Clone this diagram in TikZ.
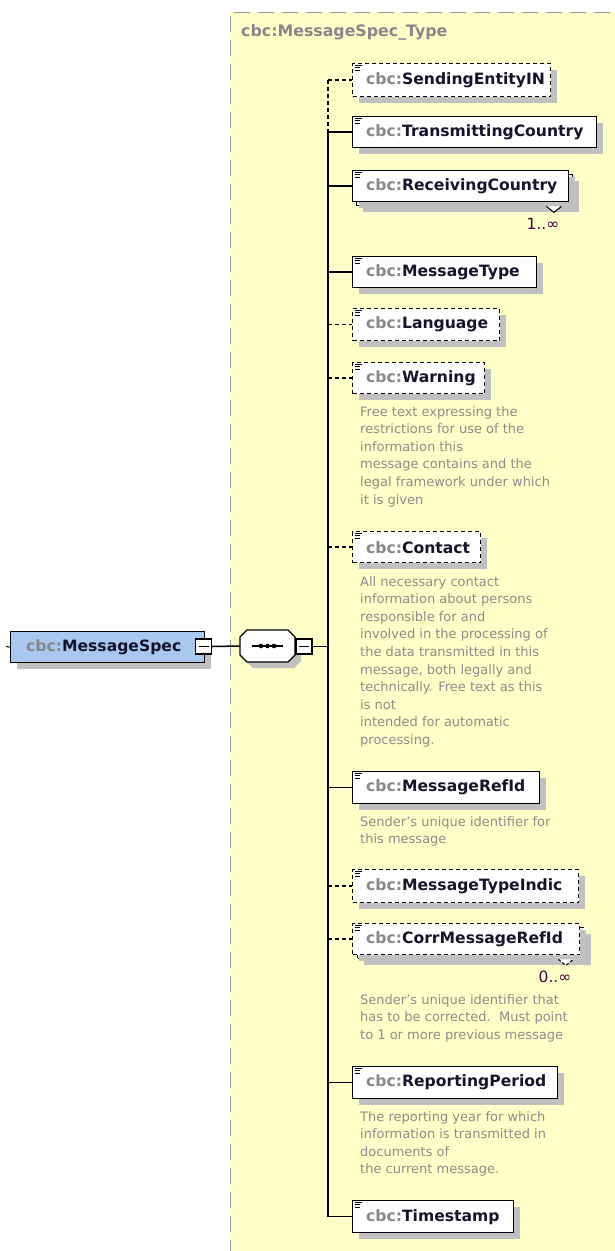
\documentclass[tikz,border=0pt]{standalone}
\usepackage{fontspec}
\setmainfont{DejaVu Sans}
\usetikzlibrary{shadows}
\definecolor{bgy}{RGB}{255,255,200}
\definecolor{shd}{RGB}{192,192,192}
\definecolor{pfx}{RGB}{135,135,140}
\definecolor{nm}{RGB}{20,20,45}
\definecolor{desc}{RGB}{140,140,140}
\definecolor{mult}{RGB}{75,0,60}
\definecolor{mainblue}{RGB}{168,200,240}
\definecolor{bord}{RGB}{150,150,150}
\tikzset{
  elembox/.style={draw=black, line width=1.4pt, fill=white, rectangle, inner sep=0pt, anchor=north west,
    drop shadow={shadow xshift=6pt, shadow yshift=-6pt, fill=shd, opacity=1}},
  optbox/.style={elembox, dash pattern=on 4pt off 3pt},
  namelbl/.style={anchor=west, inner sep=0pt, font=\bfseries\fontsize{15.6}{18}\selectfont, text=nm},
  desclbl/.style={anchor=north west, inner sep=0pt, align=left, text=desc, font=\fontsize{13}{17.6}\selectfont},
  conn/.style={draw=black, line width=1.5pt},
  optconn/.style={conn, dash pattern=on 4pt off 3pt},
  icon/.style={line width=0.8pt},
  multlbl/.style={inner sep=0pt, text=mult, font=\fontsize{15.5}{17}\selectfont},
  minusbox/.style={draw=black, line width=1.2pt, fill=white, rectangle, inner sep=0pt, minimum width=16pt, minimum height=15pt}
}
\newcommand\mkicon[1]{%
  \draw[icon] ([shift={(2.5,2.5)}]#1.north west) -- ++(7,0);
  \draw[icon] ([shift={(2.5,4.7)}]#1.north west) -- ++(5,0);
  \draw[icon] ([shift={(2.5,6.9)}]#1.north west) -- ++(5,0);}
\newcommand\mkname[2]{\node[namelbl] at ([xshift=14pt]#1.west) {\textcolor{pfx}{cbc:}#2};}
\begin{document}
\begin{tikzpicture}[x=1pt,y=-1pt]
\useasboundingbox (0,0) rectangle (615,1251);
\begin{scope}
\clip (0,0) rectangle (615,1251);
\fill[bgy] (230,12) rectangle (640,1280);
\draw[bord, line width=1pt, dash pattern=on 16pt off 8pt] (230,1280) -- (230,12) -- (640,12);
\end{scope}
\node[anchor=west, inner sep=0pt, text=pfx, font=\bfseries\fontsize{15.8}{18}\selectfont] (title) at (241,32) {cbc:MessageSpec\_Type};

% main element
\node[elembox, fill=mainblue, minimum width=194pt, minimum height=31pt] (ms) at (10,631) {};
\node[namelbl, text=nm, font=\bfseries\fontsize{15.6}{18}\selectfont] at ([xshift=16pt]ms.west) {\textcolor{pfx}{cbc:}MessageSpec};
\coordinate (stub) at (6,646.5);
\draw[line width=1pt] (stub) -- (ms.west);
\node[minusbox] (m1) at (203.5,646.5) {};
\draw[line width=1.2pt] ([xshift=-5pt]m1.center) -- ([xshift=5pt]m1.center);

% sequence compositor
\fill[shd] (253,636) -- (295,636) -- (301,643) -- (301,661) -- (294,668) -- (253,668) -- (246,661) -- (246,643) -- cycle;
\node[draw=none, inner sep=0pt, minimum width=55pt, minimum height=32pt] (seq) at (267.5,646) {};
\draw[line width=1.3pt, fill=white] (247,630) -- (288,630) -- (295,637) -- (295,655) -- (288,662) -- (247,662) -- (240,655) -- (240,637) -- cycle;
\draw[line width=1.2pt] (252,646) -- (283,646);
\foreach \xx in {261,267.5,274} \fill (\xx,646) circle (2.3pt);
\node[minusbox] (m2) at (304,646.5) {};
\draw[line width=1.2pt] ([xshift=-5pt]m2.center) -- ([xshift=5pt]m2.center);
\draw[conn] (m1.east) -- (seq.west);
\coordinate (sp) at (328,646.5);
\draw[conn] (m2.east) -- (sp);

% elements
\node[optbox, minimum width=198pt, minimum height=33pt] (e1) at (352,63) {};
\node[elembox, minimum width=244pt, minimum height=31pt] (e2) at (352,116) {};
\node[elembox, minimum width=216pt, minimum height=31pt] (e3b) at (356,174) {};
\node[elembox, minimum width=216pt, minimum height=31pt, drop shadow={opacity=0}] (e3) at (352,170) {};
\node[elembox, minimum width=184pt, minimum height=31pt] (e4) at (352,256) {};
\node[optbox, minimum width=147pt, minimum height=32pt] (e5) at (352,308) {};
\node[optbox, minimum width=132pt, minimum height=31pt] (e6) at (352,362) {};
\node[optbox, minimum width=128pt, minimum height=31pt] (e7) at (352,531) {};
\node[elembox, minimum width=187pt, minimum height=32pt] (e8) at (352,771) {};
\node[optbox, minimum width=226pt, minimum height=33pt] (e9) at (352,869) {};
\node[optbox, minimum width=227pt, minimum height=31pt] (e10b) at (357,927) {};
\node[optbox, minimum width=227pt, minimum height=31pt, drop shadow={opacity=0}] (e10) at (352,923) {};
\node[elembox, minimum width=205pt, minimum height=32pt] (e11) at (352,1066) {};
\node[elembox, minimum width=161pt, minimum height=32pt] (e12) at (352,1200) {};

% notches
\draw[line width=1pt, fill=white] ([xshift=-27pt]e3b.south east) -- ++(7.5,6) -- ++(7.5,-6);
\draw[line width=1pt, fill=white, dash pattern=on 3pt off 2pt] ([xshift=-27pt]e10b.south east) -- ++(7.5,6) -- ++(7.5,-6);

\foreach \n in {e1,e2,e3,e4,e5,e6,e7,e8,e9,e10,e11,e12} {\mkicon{\n}}
\mkname{e1}{SendingEntityIN}
\mkname{e2}{TransmittingCountry}
\mkname{e3}{ReceivingCountry}
\mkname{e4}{MessageType}
\mkname{e5}{Language}
\mkname{e6}{Warning}
\mkname{e7}{Contact}
\mkname{e8}{MessageRefId}
\mkname{e9}{MessageTypeIndic}
\mkname{e10}{CorrMessageRefId}
\mkname{e11}{ReportingPeriod}
\mkname{e12}{Timestamp}

\node[multlbl] (mu1) at (543,224) {1..∞};
\node[multlbl] (mu2) at (555,977) {0..∞};

% spine and connectors
\draw[optconn] (e1.west -| sp) -- (e2.west -| sp);
\draw[conn] (e2.west -| sp) -- (e12.west -| sp);
\foreach \n in {e1,e5,e6,e7,e9,e10} \draw[optconn] (\n.west -| sp) -- (\n.west);
\foreach \n in {e2,e3,e4,e8,e11,e12} \draw[conn] (\n.west -| sp) -- (\n.west);

% descriptions
\node[desclbl] (d6) at (360,406) {Free text expressing the\\restrictions for use of the\\information this\\message contains and the\\legal framework under which\\it is given};
\node[desclbl] (d7) at (360,576) {All necessary contact\\information about persons\\responsible for and\\involved in the processing of\\the data transmitted in this\\message, both legally and\\technically. Free text as this\\is not\\intended for automatic\\processing.};
\node[desclbl] (d8) at (360,816) {Sender's unique identifier for\\this message};
\node[desclbl] (d10) at (360,994) {Sender's unique identifier that\\has to be corrected.\ \ Must point\\to 1 or more previous message};
\node[desclbl] (d11) at (360,1111) {The reporting year for which\\information is transmitted in\\documents of\\the current message.};
\end{tikzpicture}
\end{document}
